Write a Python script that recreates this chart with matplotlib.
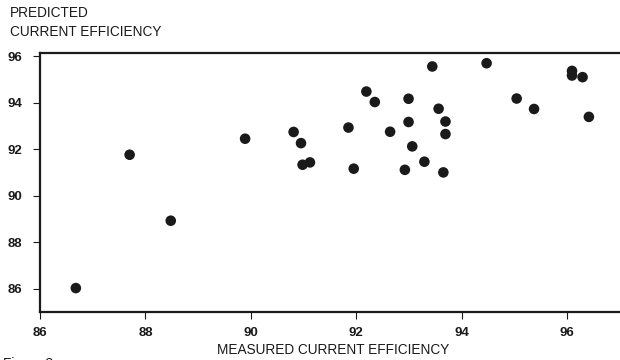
import matplotlib
matplotlib.use("Agg")
import matplotlib.pyplot as plt

# measured vs predicted current efficiency
measured = [86.68, 88.48, 87.70, 89.89, 90.81, 90.95, 90.98, 91.12,
            91.85, 91.95, 92.19, 92.35, 92.64, 92.92, 92.99, 92.99,
            93.06, 93.29, 93.44, 93.56, 93.65, 93.69, 93.69, 94.47,
            95.04, 95.37, 96.09, 96.09, 96.29, 96.41]
predicted = [86.03, 88.93, 91.77, 92.46, 92.75, 92.27, 91.34, 91.44,
             92.94, 91.17, 94.49, 94.04, 92.76, 91.12, 94.18, 93.18,
             92.13, 91.47, 95.57, 93.75, 91.01, 93.20, 92.66, 95.71,
             94.19, 93.74, 95.38, 95.18, 95.11, 93.40]
xticks = [86, 88, 90, 92, 94, 96]
yticks = [86, 88, 90, 92, 94, 96]

INK = "#1a1a1a"
plt.rcParams.update({
    "font.family": ["Liberation Sans", "DejaVu Sans"],
    "text.color": INK,
})

fig = plt.figure(figsize=(6.2, 3.6), dpi=100)
ax = fig.add_axes([0.0645, 0.1333, 0.9355, 0.7195])

ax.scatter(measured, predicted, s=58, color=INK, edgecolors="none", zorder=3)

ax.set_xlim(86, 97)
ax.set_ylim(85, 96.15)
ax.set_xticks(xticks)
ax.set_yticks(yticks)
ax.set_xticklabels([str(t) for t in xticks], fontsize=9.5, fontweight="bold")
ax.set_yticklabels([str(t) for t in yticks], fontsize=9.5, fontweight="bold")
ax.tick_params(axis="x", direction="out", length=5, width=0.8, pad=6, colors=INK)
ax.tick_params(axis="y", direction="out", length=5, width=0.8, pad=8, colors=INK)

ax.spines["right"].set_visible(False)
for s in ("left", "bottom", "top"):
    ax.spines[s].set_linewidth(1.6)
    ax.spines[s].set_color(INK)

fig.text(0.016, 0.965, "PREDICTED", fontsize=9.8, ha="left", va="center")
fig.text(0.016, 0.91, "CURRENT EFFICIENCY", fontsize=9.8, ha="left", va="center")
fig.text(0.537, 0.027, "MEASURED CURRENT EFFICIENCY", fontsize=9.8,
         ha="center", va="center")
fig.text(0.005, -0.012, "Figure 3", fontsize=9.8, ha="left", va="center")

fig.savefig("out.png", dpi=100)
